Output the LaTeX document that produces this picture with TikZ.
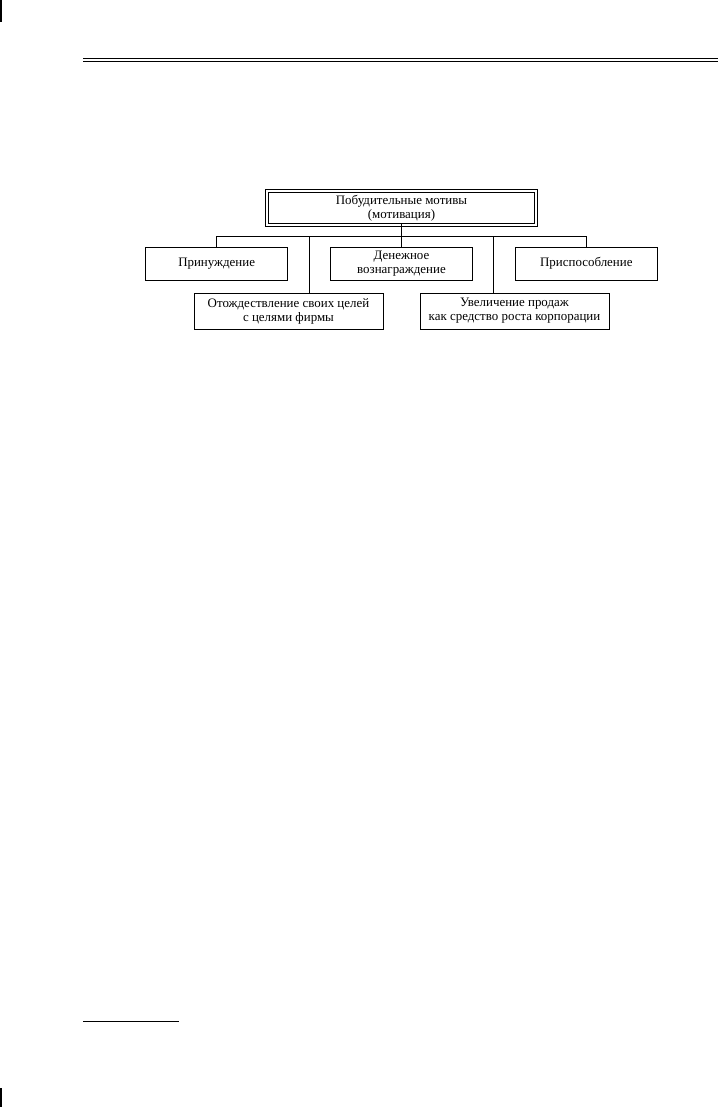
\documentclass[tikz,border=0pt]{standalone}
\usepackage{fontspec}
\setmainfont{Liberation Serif}
\usetikzlibrary{positioning, calc}

\begin{document}
\begin{tikzpicture}[
  mainbox/.style={draw, rectangle, line width=0.6pt, minimum width=6.65cm, minimum height=0.79cm, inner sep=1pt, font=\fontsize{9.2}{10}\selectfont, align=center},
  subbox/.style={draw, rectangle, line width=0.6pt, minimum width=3.55cm, minimum height=0.825cm, inner sep=1pt, font=\fontsize{9.2}{10}\selectfont, align=center},
  widebox/.style={subbox, minimum width=4.725cm, minimum height=0.9cm},
  link/.style={line width=0.6pt, black},
  rule/.style={line width=0.6pt, black}
]
\useasboundingbox (0,0) rectangle (17.95,-27.675);

% page rules
\draw[rule] (2.075,-1.4625) -- (17.95,-1.4625);
\draw[rule] (2.075,-1.525) -- (17.95,-1.525);
\draw[rule] (2.075,-25.525) -- (4.475,-25.525);
\draw[line width=1pt] (0.02,0) -- (0.02,-0.55);
\draw[line width=1.5pt] (0.03,-27.2) -- (0.03,-27.675);

\node[mainbox] (motive) at (10.0375,-5.2) {Побудительные мотивы\\(мотивация)};
\draw[rule] ([shift={(-0.0625,0.0625)}]motive.north west) rectangle ([shift={(0.0625,-0.0625)}]motive.south east);

\node[subbox] (money) [below=0.5625cm of motive] {Денежное\\вознаграждение};
\node[subbox] (force) [left=1.05cm of money] {Принуждение};
\node[subbox] (adapt) [right=1.05cm of money] {Приспособление};

\node[widebox] (ident) [below=0.3cm of money, xshift=-2.825cm] {Отождествление своих целей\\с целями фирмы};
\node[widebox] (sales) [below=0.3cm of money, xshift=2.825cm] {Увеличение продаж\\как средство роста корпорации};

\coordinate (bus) at ($(motive.south)!0.55!(money.north)$);

\draw[link] (motive.south) -- (money.north);
\draw[link] (force.north) |- (bus) -| (adapt.north);
\draw[link] ([xshift=0.525cm]ident.north) |- (bus);
\draw[link] ([xshift=-0.525cm]sales.north) |- (bus);
\end{tikzpicture}
\end{document}
